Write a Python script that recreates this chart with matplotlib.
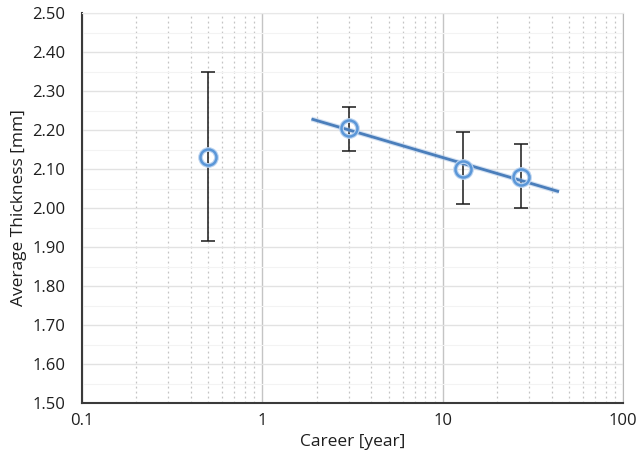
import matplotlib
matplotlib.use("Agg")
import matplotlib.pyplot as plt
import numpy as np
from matplotlib.ticker import LogLocator, FixedLocator, FuncFormatter, NullFormatter

# career (years) vs. average thickness, mean with spread
career = [0.5, 3, 13, 27]
thickness = [2.13, 2.205, 2.10, 2.08]
err_low = [1.915, 2.145, 2.01, 2.00]
err_high = [2.35, 2.26, 2.195, 2.165]

# logarithmic trendline over the experienced group, extended both ways
trend_from = 1
trend_range = [1.87, 44]

y_ticks = [1.50, 1.60, 1.70, 1.80, 1.90, 2.00, 2.10, 2.20, 2.30, 2.40, 2.50]
x_ticks = [0.1, 1, 10, 100]

plt.rcParams['font.family'] = ['Open Sans', 'DejaVu Sans']

fig = plt.figure(figsize=(6.38, 4.58), dpi=100)
ax = fig.add_axes([0.1285, 0.120, 0.8485, 0.8516])

ax.set_xscale('log')
ax.set_xlim(0.1, 100)
ax.set_ylim(1.5, 2.5)

ax.yaxis.set_major_locator(FixedLocator(y_ticks))
ax.yaxis.set_minor_locator(FixedLocator(np.arange(1.55, 2.5, 0.1)))
ax.yaxis.set_major_formatter(FuncFormatter(lambda v, p: f"{v:.2f}"))
ax.xaxis.set_major_locator(FixedLocator(x_ticks))
ax.xaxis.set_minor_locator(LogLocator(base=10, subs=np.arange(2, 10)))
ax.xaxis.set_major_formatter(FuncFormatter(lambda v, p: f"{v:g}"))
ax.xaxis.set_minor_formatter(NullFormatter())

ax.grid(axis='y', which='major', color='#e2e2e2', linewidth=1.0)
ax.grid(axis='y', which='minor', color='#f3f3f3', linewidth=0.8)
ax.grid(axis='x', which='major', color='#c4c4c4', linewidth=1.0)
ax.grid(axis='x', which='minor', color='#c4c4c4', linewidth=0.9, linestyle=(0, (1.5, 2.5)))
ax.set_axisbelow(True)

ax.tick_params(which='both', length=0, labelsize=12, colors='#1e1e1e')
ax.tick_params(axis='y', pad=12)
ax.tick_params(axis='x', pad=7)

for side in ('left', 'bottom'):
    ax.spines[side].set_color('#3a3a3a')
    ax.spines[side].set_linewidth(1.5)
ax.spines['right'].set_color('#b8b8b8')
ax.spines['top'].set_color('#e8e8e8')

# trendline: y = a*log10(x) + b
lx = np.log10(career[trend_from:])
a, b = np.polyfit(lx, thickness[trend_from:], 1)
tx = np.array(trend_range)
ax.plot(tx, a * np.log10(tx) + b, color='#a7c3e6', linewidth=3.6, alpha=0.5,
        solid_capstyle='butt', zorder=3)
ax.plot(tx, a * np.log10(tx) + b, color='#4a7ebb', linewidth=2.0,
        solid_capstyle='butt', zorder=4)

yerr = [np.array(thickness) - np.array(err_low), np.array(err_high) - np.array(thickness)]
ax.errorbar(career, thickness, yerr=yerr, fmt='none', ecolor='#1a1a1a',
            elinewidth=1.1, capsize=5, capthick=1.1, zorder=2)
ax.plot(career, thickness, 'o', markersize=11.5, markerfacecolor='none',
        markeredgecolor='#bcd4f0', markeredgewidth=3.4, zorder=5)
ax.plot(career, thickness, 'o', markersize=11.5, markerfacecolor='none',
        markeredgecolor='#5b97d8', markeredgewidth=1.8, zorder=6)

ax.set_xlabel('Career [year]', fontsize=12.5, color='#1e1e1e', labelpad=4)
ax.set_ylabel('Average Thickness [mm]', fontsize=12.5, color='#1e1e1e', labelpad=4)

fig.savefig('out.png', dpi=100)
